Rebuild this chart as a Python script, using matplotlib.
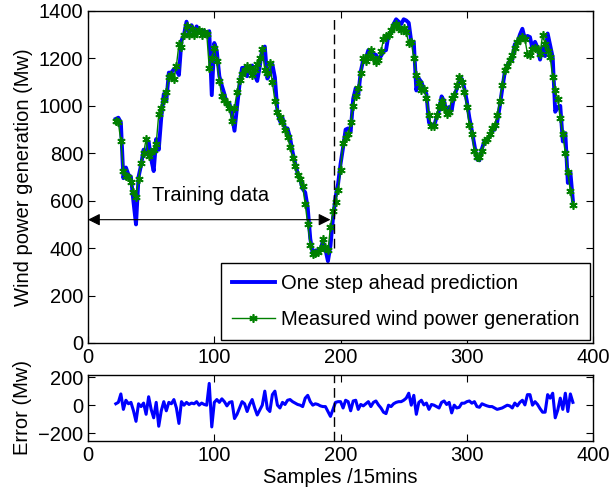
import numpy as np
import matplotlib
matplotlib.use('Agg')
import matplotlib.pyplot as plt

plt.rcParams['font.family'] = ['Liberation Sans', 'DejaVu Sans']
plt.rcParams['font.size'] = 14.5

# samples (every second 15-min sample shown)
samples = np.arange(22, 386, 2)

# measured wind power (Mw)
measured = [
    935, 930, 850, 725, 705, 700, 680, 635, 615, 690,
    760, 800, 860, 790, 805, 815, 840, 965, 990, 1025,
    1060, 1120, 1130, 1115, 1170, 1260, 1250, 1300, 1335, 1300,
    1325, 1300, 1310, 1318, 1300, 1312, 1305, 1160, 1200, 1245,
    1190, 1105, 1040, 1025, 1010, 990, 935, 990, 1060, 1110,
    1135, 1150, 1170, 1160, 1130, 1150, 1175, 1200, 1240, 1150,
    1140, 1180, 1100, 1020, 975, 955, 930, 900, 870, 825,
    780, 745, 710, 690, 660, 585, 500, 415, 375, 380,
    385, 395, 440, 405, 390, 490, 555, 595, 645, 730,
    845, 865, 880, 930, 1000, 1040, 1075, 1140, 1200, 1190,
    1210, 1235, 1200, 1185, 1195, 1230, 1280, 1295, 1300, 1320,
    1335, 1345, 1330, 1320, 1330, 1310, 1265, 1270, 1200, 1130,
    1095, 1065, 1070, 1035, 960, 915, 915, 960, 1000, 1020,
    990, 965, 975, 1035, 1045, 1090, 1120, 1100, 1060, 995,
    920, 880, 810, 785, 785, 810, 850, 860, 880, 905,
    920, 960, 1020, 1090, 1150, 1170, 1195, 1215, 1245, 1270,
    1280, 1290, 1280, 1220, 1215, 1240, 1245, 1240, 1220, 1300,
    1260, 1230, 1205, 1120, 1065, 1030, 950, 880, 800, 720,
    640, 580,
]

# prediction error (Mw) = predicted - measured
error = [
    10, 20, 80, -30, 35, 10, 20, -40, -115, 10,
    -10, 15, -65, 60, -30, -90, 20, -150, -40, 25,
    -40, 20, 10, 40, -20, -130, 25, 0, 20, 5,
    15, 10, 25, 0, 15, 5, 0, 155, -155, 20,
    40, 20, 45, 25, -5, 20, 25, -95, -65, -20,
    25, 10, -45, 5, 40, -20, -70, -35, 0, 100,
    -25, -45, 75, 100, 0, -20, 20, 5, 35, 40,
    25, 15, 5, 0, -10, 50, 70, 25, 0, 10,
    5, -5, -10, -10, -45, -80, -30, 20, 25, 25,
    -20, 35, 25, -40, 30, 35, -30, 5, -5, 10,
    25, -10, 20, 30, 2, -20, -50, -60, 0, -10,
    10, 20, 25, 25, 35, 50, 85, 0, 70, -65,
    20, 35, 2, 15, -30, 5, 0, -10, -20, 20,
    30, 5, 20, -55, 0, -20, -15, 14, 14, 25,
    30, 14, 25, -10, -15, 10, 2, -5, -10, -10,
    -20, -30, -25, -20, -10, 0, -5, -20, 15, -5,
    20, 35, 2, 75, 75, 0, 25, 5, -25, -50,
    -50, 75, 50, 85, -90, -35, 50, -30, 85, -45,
    80, 20,
]

split_sample = 195
split_top = [400, 1380]
arrow_y = 520
power_ticks = [0, 200, 400, 600, 800, 1000, 1200, 1400]
error_ticks = [-200, 0, 200]
sample_ticks = [0, 100, 200, 300, 400]

predicted = np.array(measured) + np.array(error)

fig = plt.figure(figsize=(6.1, 4.93), dpi=100)
ax1 = fig.add_axes([0.1443, 0.3043, 0.828, 0.6734])
ax2 = fig.add_axes([0.1443, 0.1055, 0.828, 0.1339])

ax1.plot(samples, predicted, color='blue', lw=2.8, label='One step ahead prediction')
ax1.plot(samples, measured, color=(0, 0.5, 0), lw=1, marker=(6, 2, 0), ms=6, mew=1.2,
         label='Measured wind power generation')
ax1.plot([split_sample, split_sample], split_top, color='k', lw=1, dashes=(7, 3.5))
ax1.annotate('', xy=(0, arrow_y), xytext=(192, arrow_y),
             arrowprops=dict(arrowstyle='<|-|>', color='k', lw=0.8, mutation_scale=18,
                             shrinkA=0, shrinkB=0))
ax1.text(97, 620, 'Training data', ha='center', va='center')

ax1.set_xlim(0, 400)
ax1.set_ylim(0, 1400)
ax1.set_xticks(sample_ticks)
ax1.set_yticks(power_ticks)
ax1.set_ylabel('Wind power generation (Mw)')
leg = ax1.legend(loc='lower right', fancybox=False, edgecolor='k', framealpha=1,
                 handlelength=2.1, handletextpad=0.3, labelspacing=0.85,
                 borderaxespad=0.15, borderpad=0.55)
leg.get_frame().set_linewidth(1)

ax2.plot(samples, error, color='blue', lw=2.2)
ax2.axvline(split_sample, color='k', lw=1, dashes=(7, 3.5))
ax2.set_xlim(0, 400)
ax2.set_ylim(-255, 215)
ax2.set_xticks(sample_ticks)
ax2.set_yticks(error_ticks)
ax2.set_yticklabels(['\u2212200', '0', '200'])
ax2.set_ylabel('Error (Mw)')
ax2.set_xlabel('Samples /15mins', labelpad=2)

for ax in (ax1, ax2):
    ax.tick_params(direction='in', top=True, right=True, length=5, width=0.8)
    for sp in ax.spines.values():
        sp.set_linewidth(1)

fig.savefig('out.png', dpi=100)
